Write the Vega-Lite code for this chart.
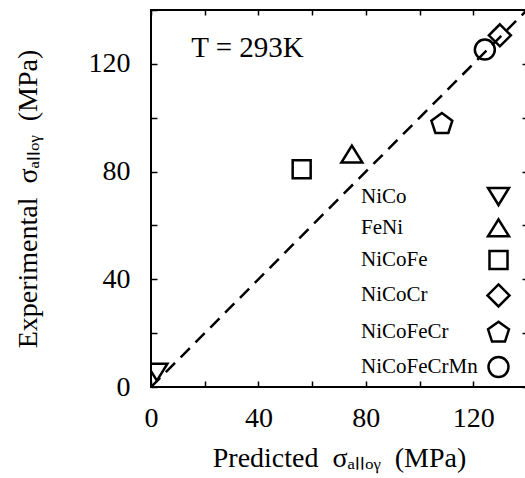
{
  "$schema": "https://vega.github.io/schema/vega-lite/v6.json",
  "width": 376,
  "height": 377,
  "autosize": {"type": "none"},
  "padding": {"left": 151, "top": 10, "right": 0, "bottom": 91},
  "background": "white",
  "config": {
    "view": {"stroke": "black", "strokeWidth": 2},
    "font": "Liberation Serif",
    "axis": {
      "labelFont": "Liberation Serif",
      "titleFont": "Liberation Serif",
      "labelFontSize": 28,
      "titleFontSize": 28,
      "titleFontWeight": "normal",
      "labelColor": "black",
      "titleColor": "black",
      "tickColor": "black",
      "tickSize": -6,
      "tickWidth": 1.5,
      "domain": false,
      "grid": false
    }
  },
  "layer": [
    {
      "data": {"values": [{"x": 0, "y": 0}, {"x": 140, "y": 140}]},
      "mark": {"type": "line", "color": "black", "strokeWidth": 2.5, "strokeDash": [13, 8], "clip": true},
      "encoding": {
        "x": {"field": "x", "type": "quantitative", "scale": {"domain": [0, 140], "nice": false},
          "axis": {"orient": "top", "labels": false, "title": null, "tickSize": -5, "values": [0, 20, 40, 60, 80, 100, 120, 140]}},
        "y": {"field": "y", "type": "quantitative", "scale": {"domain": [0, 140], "nice": false},
          "axis": {"orient": "right", "labels": false, "title": null, "tickSize": -5, "values": [0, 20, 40, 60, 80, 100, 120, 140]}}
      }
    },
    {
      "data": {"values": [
        {"alloy": "NiCo", "predicted": 2.2, "experimental": 5.5},
        {"alloy": "FeNi", "predicted": 74.8, "experimental": 86.5},
        {"alloy": "NiCoFe", "predicted": 56.1, "experimental": 80.9},
        {"alloy": "NiCoCr", "predicted": 129.9, "experimental": 130.6},
        {"alloy": "NiCoFeCr", "predicted": 108.3, "experimental": 98.0},
        {"alloy": "NiCoFeCrMn", "predicted": 124.3, "experimental": 125.3}
      ]},
      "mark": {"type": "point", "filled": false, "color": "black", "strokeWidth": 2.5, "size": 400, "opacity": 1, "clip": true},
      "encoding": {
        "x": {"field": "predicted", "type": "quantitative", "scale": {"domain": [0, 140], "nice": false},
          "axis": {"orient": "bottom", "title": "Predicted\u00a0\u00a0σₐₗₗₒᵧ\u00a0\u00a0(MPa)", "values": [0, 20, 40, 60, 80, 100, 120, 140],
            "labelExpr": "datum.value % 40 == 0 ? datum.label : ''", "labelPadding": 23, "titlePadding": 12, "labelFlush": false}},
        "y": {"field": "experimental", "type": "quantitative", "scale": {"domain": [0, 140], "nice": false},
          "axis": {"orient": "left", "title": "Experimental\u00a0\u00a0σₐₗₗₒᵧ\u00a0\u00a0(MPa)", "values": [0, 20, 40, 60, 80, 100, 120, 140],
            "labelExpr": "datum.value % 40 == 0 ? datum.label : ''", "labelPadding": 27, "titlePadding": 46, "labelFlush": false}},
        "shape": {"field": "alloy", "type": "nominal",
          "scale": {
            "domain": ["NiCo", "FeNi", "NiCoFe", "NiCoCr", "NiCoFeCr", "NiCoFeCrMn"],
            "range": [
              "M-1.05,-0.85L1.05,-0.85L0,0.85Z",
              "M0,-0.85L1.05,0.85L-1.05,0.85Z",
              "M-0.9,-0.9L0.9,-0.9L0.9,0.9L-0.9,0.9Z",
              "M0,-1.1L1.1,0L0,1.1L-1.1,0Z",
              "M0,-1L1.046,-0.24L0.647,0.99L-0.647,0.99L-1.046,-0.24Z",
              "circle"
            ]
          },
          "legend": {
            "orient": "none", "legendX": 336, "legendY": 175, "title": null, "padding": 0,
            "labelFont": "Liberation Serif", "labelFontSize": 21, "labelColor": "black",
            "labelOffset": -149, "labelAlign": "left", "labelLimit": 0,
            "symbolSize": 400, "symbolStrokeWidth": 2.5, "symbolStrokeColor": "black", "symbolFillColor": "white",
            "rowPadding": 4.3
          }
        }
      }
    },
    {
      "data": {"values": [{"label": "T = 293K"}]},
      "mark": {"type": "text", "align": "left", "baseline": "middle", "fontSize": 29, "font": "Liberation Serif", "color": "black"},
      "encoding": {
        "x": {"datum": 15, "type": "quantitative", "axis": null},
        "y": {"datum": 126, "type": "quantitative", "axis": null},
        "text": {"field": "label"}
      }
    }
  ]
}
